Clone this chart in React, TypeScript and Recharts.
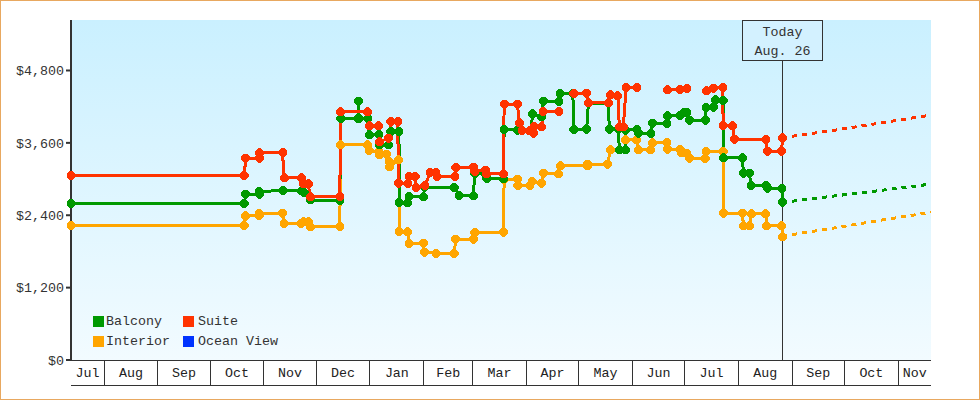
import {
  Legend,
  Line,
  LineChart,
  ReferenceArea,
  ReferenceLine,
  XAxis,
  YAxis,
} from "recharts";

// x values are days since the first sample (Jul 12)
const MAX_DAY = 494.8;
const MAX_PRICE = 5637;
const TODAY = 409.3;

const monthNames = ["Jul", "Aug", "Sep", "Oct", "Nov", "Dec", "Jan", "Feb", "Mar", "Apr", "May", "Jun", "Jul", "Aug", "Sep", "Oct", "Nov"];
const monthStarts = [19, 50, 80, 111, 141, 172, 203, 231, 262, 292, 323, 353, 384, 415, 445, 476];
const priceTicks = [0, 1200, 2400, 3600, 4800];

const balconyDays = [0, 99.8, 100.4, 108.2, 108.4, 122, 132.4, 134.1, 137.8, 154.6, 155.3, 165.3, 165.4, 165.7, 170.7, 171.6, 177.2, 177.4, 182.6, 184.1, 188.7, 188.8, 193.7, 194.5, 202.9, 203.3, 220.4, 223.4, 231.5, 232.3, 238.2, 239.2, 248.8, 249.2, 256.8, 265, 265.4, 270.8, 271.8, 280.6, 281.5, 288.7, 289.4, 296.7, 297.7, 309.2, 309.7, 314.9, 315.5, 318.8, 319.2, 325.5, 326.4, 333.6, 334.5, 342.8, 343.3, 350.4, 352.3, 354.3, 355.8, 364.8, 365.4, 369.6, 370.6, 375.3, 375.4, 386.3, 386.9, 390.3, 391.3, 399.9, 400.7, 409, 409.3];
const balconyPrices = [2595, 2595, 2744, 2752, 2794, 2810, 2802, 2769, 2653, 2641, 4007, 4007, 4294, 4007, 4007, 3731, 3731, 3565, 3565, 3785, 3785, 2608, 2608, 2708, 2708, 2863, 2863, 2724, 2724, 3095, 3095, 3006, 3006, 3825, 3813, 3813, 4079, 4034, 4289, 4289, 4422, 4422, 3825, 3825, 4256, 4256, 3825, 3825, 3482, 3482, 3813, 3825, 3759, 3759, 3925, 3925, 4046, 4046, 4100, 4100, 3979, 3979, 4190, 4190, 4311, 4299, 3354, 3354, 3095, 3095, 2890, 2890, 2847, 2847, 2615];

// null marks a stretch with no fare published
const suiteDays = [0, 99.8, 100.4, 108.2, 108.4, 121.7, 122.6, 132.4, 133.5, 136.4, 137.8, 154.6, 155.3, 170.7, 171.6, 177.1, 177.4, 182.6, 184.1, 188, 188.4, 193.8, 194.5, 198, 198.6, 203.6, 206.6, 210, 210.7, 220.8, 221.5, 231.5, 232.3, 238.2, 239.2, 248.8, 249.2, 256.8, 258, 259.6, 263.8, 266, 266.4, 270.8, 271.6, 280.6, 285, 289.4, 296.7, 297.7, 309.2, 310.2, 314.6, 315.5, 317.8, 319.4, 325.5, 330, 343.3, 350.4, 354.3, 360, 365.4, 369.6, 375, 375.2, 380.6, 381.7, 399.7, 400.5, 408.9, 409.3];
const suitePrices = [3059, 3059, 3341, 3349, 3432, 3440, 3018, 3018, 2918, 2918, 2708, 2708, 4112, 4112, 3880, 3880, 3619, 3676, 3951, 3951, 2930, 2930, 3039, 3039, 2863, 2890, 3105, 3105, 3046, 3046, 3195, 3195, 3122, 3150, 3084, 3084, 4244, 4244, 3934, 3802, 3802, 3759, 3868, 3868, 4123, 4123, null, 4422, 4422, 4266, 4266, 4394, 4377, 3868, 3868, 4521, 4521, null, 4477, 4477, 4505, null, 4460, 4505, 4521, 3885, 3885, 3659, 3659, 3465, 3465, 3686];

const interiorDays = [0, 99.8, 100.4, 108.2, 108.4, 121.7, 122.6, 132.4, 133.5, 136.4, 137.8, 154.6, 155.3, 170.7, 171.6, 177.2, 177.7, 181.6, 183.1, 183.2, 188.7, 188.8, 193.7, 194.5, 202.9, 203.3, 210.1, 220.4, 221.5, 231.5, 232.4, 248.8, 249.2, 256.8, 257, 264, 265.4, 270.8, 271.8, 280.6, 281.4, 297.1, 297.2, 308.8, 310.2, 318.8, 318.9, 325.5, 326.4, 333.6, 334.5, 342.8, 343.3, 350.4, 351.3, 354.3, 355.8, 364.8, 365.4, 375.3, 375.4, 386.3, 386.9, 390.3, 391.3, 399.7, 400.2, 409, 409.3];
const interiorPrices = [2230, 2230, 2388, 2396, 2429, 2437, 2263, 2263, 2288, 2288, 2213, 2213, 3565, 3565, 3470, 3454, 3399, 3415, 3288, 3205, 3316, 2127, 2127, 1935, 1935, 1786, 1769, 1769, 2006, 2006, 2117, 2117, 2996, 2996, 2890, 2890, 2956, 2930, 3095, 3084, 3217, 3217, 3245, 3245, 3482, 3482, 3648, 3648, 3482, 3482, 3603, 3603, 3493, 3493, 3437, 3427, 3344, 3344, 3454, 3454, 2432, 2432, 2222, 2222, 2421, 2421, 2222, 2222, 2044];

const forecastDays = [409.3, 416, 439, 462, 485, 494.8];
const balconyForecast = [2615, 2636, 2719, 2797, 2880, 2918];
const suiteForecast = [3686, 3714, 3808, 3913, 4017, 4062];
const interiorForecast = [2044, 2084, 2189, 2300, 2404, 2451];

const zip = (days: number[], prices: (number | null)[]) => days.map((day, i) => ({ day, price: prices[i] }));

const GREEN = "#009900";
const RED = "#ff3300";
const ORANGE = "#ffa500";
const BLUE = "#0033ff";
const INK = "#333333";
const FONT = '"Liberation Mono", monospace';
const FONT_SIZE = 13.33;

const legendItems = [
  { name: "Balcony", color: GREEN, gap: 2 },
  { name: "Suite", color: RED, gap: 4 },
  { name: "Interior", color: ORANGE, gap: 2 },
  { name: "Ocean View", color: BLUE, gap: 4 },
];

const monthMids = monthNames.map((_, i) => {
  const from = i === 0 ? 0 : monthStarts[i - 1];
  const to = i < monthStarts.length ? monthStarts[i] : MAX_DAY;
  return (from + to) / 2;
});

const crispLine = { stroke: INK, strokeWidth: 1, shapeRendering: "crispEdges" };

function marker(color: string) {
  return (p: any) => {
    if (p.cy == null || Number.isNaN(p.cy)) return <g key={p.key ?? p.index} />;
    const { cx, cy } = p;
    const pts = [
      [cx - 4.5, cy - 1.5], [cx - 1.5, cy - 4.5], [cx + 1.5, cy - 4.5], [cx + 4.5, cy - 1.5],
      [cx + 4.5, cy + 1.5], [cx + 1.5, cy + 4.5], [cx - 1.5, cy + 4.5], [cx - 4.5, cy + 1.5],
    ].map((q) => q.join(",")).join(" ");
    return <polygon key={p.key ?? p.index} points={pts} fill={color} stroke="none" shapeRendering="crispEdges" />;
  };
}

function TodayBox({ viewBox }: any) {
  const cx = viewBox.x;
  return (
    <g fontFamily={FONT} fontSize={FONT_SIZE} fill={INK}>
      <rect x={742.5} y={20.5} width={80} height={40} fill="#d3f1ff" stroke={INK} strokeWidth={1} />
      <text x={cx} y={36} textAnchor="middle">Today</text>
      <text x={cx} y={55} textAnchor="middle">Aug. 26</text>
    </g>
  );
}

function LegendBox() {
  return (
    <div style={{ display: "grid", gridTemplateColumns: "90px 100px", rowGap: 9, fontFamily: FONT, fontSize: FONT_SIZE, color: INK, lineHeight: "11px" }}>
      {legendItems.map((it) => (
        <div key={it.name} style={{ display: "flex", alignItems: "center", gap: it.gap, whiteSpace: "nowrap" }}>
          <span style={{ width: 11, height: 11, background: it.color, display: "inline-block" }} />
          {it.name}
        </div>
      ))}
    </div>
  );
}

function series(name: string, color: string, axisId: string, days: number[], prices: (number | null)[]) {
  return (
    <Line
      key={name}
      name={name}
      data={zip(days, prices)}
      dataKey="price"
      xAxisId={axisId}
      type="linear"
      stroke={color}
      strokeWidth={3}
      dot={marker(color)}
      activeDot={false}
      connectNulls={false}
      shapeRendering="crispEdges"
      isAnimationActive={false}
    />
  );
}

function forecast(name: string, color: string, prices: number[]) {
  return (
    <Line
      key={name}
      name={name}
      data={zip(forecastDays, prices)}
      dataKey="price"
      xAxisId="rule"
      type="linear"
      stroke={color}
      strokeWidth={3}
      strokeDasharray="5 5"
      dot={false}
      activeDot={false}
      legendType="none"
      shapeRendering="crispEdges"
      isAnimationActive={false}
    />
  );
}

export default function App() {
  return (
    <div style={{ position: "absolute", left: 0, top: 0, width: 980, height: 400, background: "#fff" }}>
      <LineChart width={980} height={400} margin={{ top: 20, right: 49, bottom: 14, left: 0 }}>
        <defs>
          <linearGradient id="plotBg" x1="0" y1="0" x2="0" y2="1">
            <stop offset="0%" stopColor="#caf0ff" />
            <stop offset="100%" stopColor="#f2fbff" />
          </linearGradient>
        </defs>
        <XAxis
          xAxisId="axisLabels"
          type="number"
          dataKey="day"
          domain={[0, MAX_DAY]}
          ticks={monthMids}
          interval={0}
          height={1}
          tickLine={false}
          axisLine={crispLine}
          tickMargin={2}
          tickFormatter={(_: number, i: number) => monthNames[i]}
          tick={{ fontFamily: FONT, fontSize: FONT_SIZE, fill: "#222" }}
        />
        <XAxis
          xAxisId="monthTicks"
          type="number"
          dataKey="day"
          domain={[0, MAX_DAY]}
          ticks={monthStarts}
          interval={0}
          height={24}
          tickSize={24}
          tick={() => <g />}
          axisLine={false}
          tickLine={crispLine}
        />
        <XAxis
          xAxisId="rule"
          type="number"
          dataKey="day"
          domain={[0, MAX_DAY]}
          ticks={[0]}
          interval={0}
          height={1}
          tick={() => <g />}
          tickLine={false}
          axisLine={crispLine}
        />
        <YAxis
          type="number"
          domain={[0, MAX_PRICE]}
          ticks={priceTicks}
          interval={0}
          width={71}
          tickSize={5}
          tickMargin={2}
          tickFormatter={(v: number) => "$" + v.toLocaleString("en-US")}
          tick={{ fontFamily: FONT, fontSize: FONT_SIZE, fill: INK }}
          axisLine={{ stroke: INK, strokeWidth: 2 }}
          tickLine={{ stroke: INK, strokeWidth: 2 }}
        />
        <ReferenceArea xAxisId="monthTicks" x1={0} x2={MAX_DAY} y1={0} y2={MAX_PRICE} fill="url(#plotBg)" fillOpacity={1} stroke="none" />
        <ReferenceLine xAxisId="monthTicks" x={TODAY} stroke={INK} strokeWidth={1} shapeRendering="crispEdges" label={<TodayBox />} />
        {series("Interior", ORANGE, "axisLabels", interiorDays, interiorPrices)}
        {series("Balcony", GREEN, "monthTicks", balconyDays, balconyPrices)}
        {series("Suite", RED, "monthTicks", suiteDays, suitePrices)}
        {forecast("Interior forecast", ORANGE, interiorForecast)}
        {forecast("Balcony forecast", GREEN, balconyForecast)}
        {forecast("Suite forecast", RED, suiteForecast)}
        <Legend
          layout="vertical"
          align="center"
          verticalAlign="middle"
          content={<LegendBox />}
          wrapperStyle={{ position: "absolute", left: 93, top: 316, width: 200, right: "auto", bottom: "auto" }}
        />
      </LineChart>
      <div style={{ position: "absolute", inset: 0, boxSizing: "border-box", border: "1px solid #e8a860", pointerEvents: "none" }} />
    </div>
  );
}
